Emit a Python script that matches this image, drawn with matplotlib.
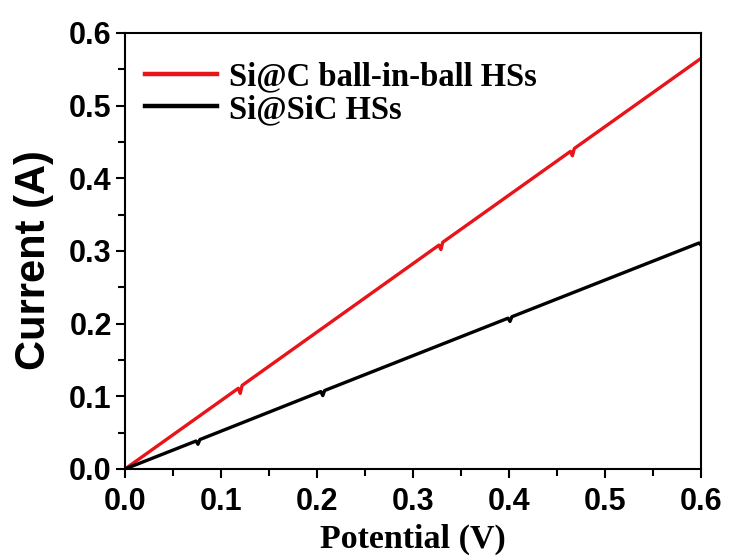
import matplotlib
matplotlib.use("Agg")
import matplotlib.pyplot as plt
from matplotlib.ticker import MultipleLocator

# --------------------------
# DATA
# --------------------------
potential_sic_c = [0.0, 0.118, 0.120, 0.122, 0.327, 0.329, 0.331, 0.464, 0.466, 0.468, 0.6]
current_sic_c = [0.0, 0.111, 0.104, 0.115, 0.308, 0.302, 0.312, 0.437, 0.431, 0.441, 0.565]

potential_sisic = [0.0, 0.074, 0.076, 0.078, 0.204, 0.206, 0.208, 0.399, 0.401, 0.403, 0.598, 0.600]
current_sisic = [0.0, 0.0385, 0.034, 0.0405, 0.1065, 0.101, 0.108, 0.2075, 0.203, 0.2095, 0.311, 0.308]

labels = ["Si@C ball-in-ball HSs", "Si@SiC HSs"]
x_ticks = [0.0, 0.1, 0.2, 0.3, 0.4, 0.5, 0.6]
y_ticks = [0.0, 0.1, 0.2, 0.3, 0.4, 0.5, 0.6]

# --------------------------
# PLOT
# --------------------------
fig = plt.figure(figsize=(7.31, 5.58), dpi=100)
ax = fig.add_axes([0.171, 0.1595, 0.788, 0.7815])

ax.plot(potential_sic_c, current_sic_c, color="#e8141a", lw=2.4, label=labels[0])
ax.plot(potential_sisic, current_sisic, color="black", lw=2.4, label=labels[1])

ax.set_xlim(0, 0.6)
ax.set_ylim(0, 0.6)
ax.set_xticks(x_ticks)
ax.set_yticks(y_ticks)
ax.xaxis.set_minor_locator(MultipleLocator(0.05))
ax.yaxis.set_minor_locator(MultipleLocator(0.05))
ax.set_xticklabels([f"{v:.1f}" for v in x_ticks])
ax.set_yticklabels([f"{v:.1f}" for v in y_ticks])

for s in ax.spines.values():
    s.set_linewidth(1.5)
ax.tick_params(which="major", direction="out", length=6.5, width=1.5, pad=3)
ax.tick_params(which="minor", direction="out", length=5, width=1.5)
ax.tick_params(axis="x", which="major", pad=6.5)
for lab in ax.get_xticklabels() + ax.get_yticklabels():
    lab.set_fontfamily("Liberation Sans")
    lab.set_fontweight("bold")
    lab.set_fontsize(22)

ax.set_xlabel("Potential (V)", fontfamily="Liberation Serif", fontweight="bold",
              fontsize=24.5, labelpad=5)
ax.set_ylabel("Current (A)", fontfamily="Liberation Sans", fontweight="bold",
              fontsize=30)
ax.yaxis.set_label_coords(-0.123, 0.479)

leg = ax.legend(loc="upper left", bbox_to_anchor=(-0.01, 0.995), frameon=False,
                prop={"family": "Liberation Serif", "weight": "bold", "size": 23.5},
                handlelength=2.2, handletextpad=0.35, labelspacing=0.05,
                borderaxespad=0.4)
for h in leg.get_lines():
    h.set_linewidth(3.2)

fig.savefig("out.png", dpi=100)
